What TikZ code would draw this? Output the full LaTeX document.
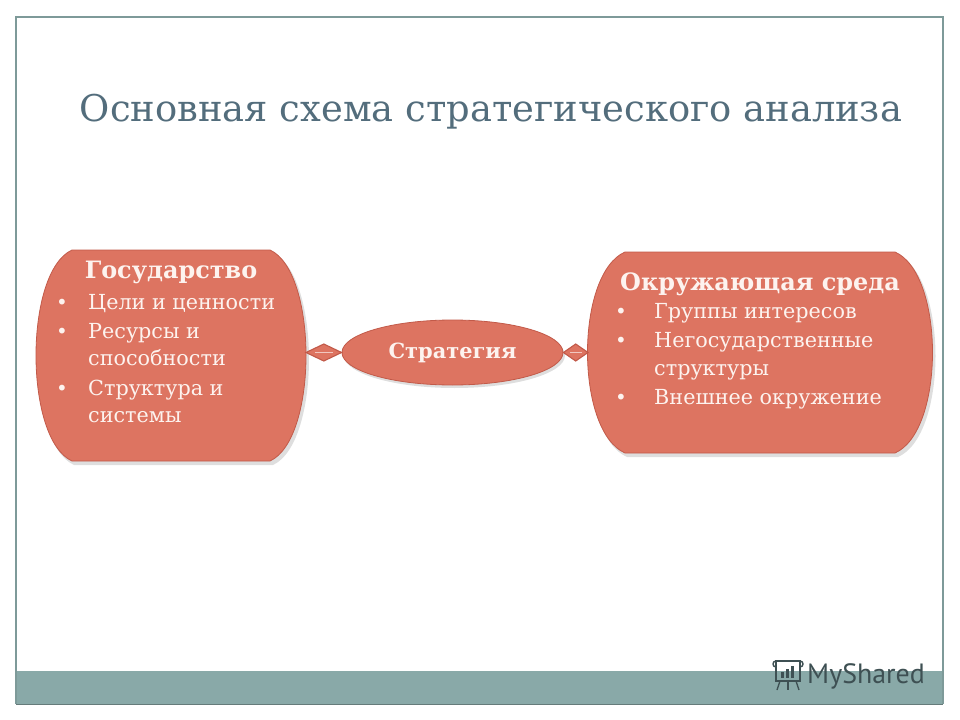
\documentclass[tikz,border=0pt]{standalone}
\usepackage{fontspec}
\setmainfont{DejaVu Serif}
\newfontfamily\logofont{PT Sans}
\usetikzlibrary{arrows.meta,shapes.geometric,calc}
\definecolor{salmon}{HTML}{DD7461}
\definecolor{salmonedge}{HTML}{C25A49}
\definecolor{titleblue}{HTML}{536D7C}
\definecolor{framecol}{HTML}{7E9A99}
\definecolor{barcol}{HTML}{89A9A8}
\definecolor{logocol}{HTML}{3E5053}
\definecolor{txtwhite}{HTML}{FDF3EF}
\tikzset{
  boxarea/.style={inner sep=0pt, outer sep=0pt},
  blobfill/.style={fill=salmon, draw=salmonedge, line width=0.8bp},
  blobshadow/.style={fill=black, opacity=0.13},
  heading/.style={text=txtwhite, font=\fontsize{24}{26}\selectfont\bfseries, inner sep=0pt},
  item/.style={text=txtwhite, font=\fontsize{20.8}{22}\selectfont, inner sep=0pt, anchor=base west},
  bullet/.style={text=txtwhite, font=\fontsize{20}{22}\selectfont, inner sep=0pt, anchor=base},
  linkshape/.style={fill=salmon, draw=salmonedge, line width=1.1bp, line join=miter},
  linkstripe/.style={draw=salmon!40!white, line width=1.2bp}
}
% blob(left flat, right flat, top, bottom, bulge control d)
\newcommand{\blobpath}[5]{(#1,#3) -- (#2,#3) .. controls (#2+#5,#3+22) and (#2+#5,#4-22) .. (#2,#4) -- (#1,#4) .. controls (#1-#5,#4-22) and (#1-#5,#3+22) .. (#1,#3) -- cycle}
\newcommand{\diamondlink}[2]{%
  \draw[linkshape] (#1) -- ($(#1)!0.5!(#2)+(0,-8.5)$) -- (#2) -- ($(#1)!0.5!(#2)+(0,8.5)$) -- cycle;
  \draw[linkstripe] ($(#1)!0.25!(#2)$) -- ($(#1)!0.75!(#2)$);}
\begin{document}
\begin{tikzpicture}[x=1bp,y=-1bp]
\useasboundingbox (0,0) rectangle (960,720);
\fill[white] (0,0) rectangle (960,720);
% frame and bottom bar
\fill[barcol] (16,671) rectangle (943,704);
\draw[framecol, line width=1.2bp] (16,704) -- (16,17) -- (943,17) -- (943,704);
\draw[framecol!80!black, line width=0.6bp] (16,704) -- (943,704);
% title
\node[text=titleblue, font=\fontsize{37}{40}\selectfont, anchor=base, inner sep=0pt] (title) at (491,122) {Основная схема стратегического анализа};
% left blob
\fill[blobshadow] \blobpath{74}{273}{253}{465}{48};
\filldraw[blobfill] \blobpath{72}{270}{250}{461}{48};
\node[boxarea, minimum width=270bp, minimum height=211bp] (gos) at (171,355.5) {};
% right blob
\fill[blobshadow] \blobpath{627}{898}{255}{457}{50};
\filldraw[blobfill] \blobpath{625}{895}{252}{453}{50};
\node[boxarea, minimum width=345bp, minimum height=201bp] (env) at (760.5,352.5) {};
% ellipse
\fill[blobshadow] (454.5,355.5) ellipse [x radius=110.5, y radius=32.5];
\node[ellipse, fill=salmon, draw=salmonedge, line width=0.8bp, minimum width=221bp, minimum height=65bp, inner sep=0pt,
  text=txtwhite, font=\fontsize{21}{23}\selectfont\bfseries] (strat) at (452.5,352.5) {Стратегия};
% left texts
\node[heading, anchor=base] (gosh) at (171,278) {Государство};
\node[bullet] (gb1) at (62,309) {•};
\node[item] (gi1) at (88,309) {Цели и ценности};
\node[bullet] (gb2) at (62,338) {•};
\node[item] (gi2) at (88,338) {Ресурсы и};
\node[item] (gi2b) at (88,365) {способности};
\node[bullet] (gb3) at (62,395) {•};
\node[item] (gi3) at (88,395) {Структура и};
\node[item] (gi3b) at (88,422) {системы};
% right texts
\node[heading, anchor=base] (envh) at (760,290) {Окружающая среда};
\node[bullet] (eb1) at (621,318) {•};
\node[item] (ei1) at (654,318) {Группы интересов};
\node[bullet] (eb2) at (621,347) {•};
\node[item] (ei2) at (654,347) {Негосударственные};
\node[item] (ei2b) at (654,375) {структуры};
\node[bullet] (eb3) at (621,404) {•};
\node[item] (ei3) at (654,404) {Внешнее окружение};
% connectors
\diamondlink{gos.east |- strat.west}{strat.west}
\diamondlink{strat.east}{env.west}
% logo
\node[text=logocol, font=\logofont\fontsize{28}{30}\selectfont, anchor=base west, inner sep=0pt] (logo) at (807,683) {MyShared};
\begin{scope}[draw=logocol, line width=1.4bp]
\draw (776,661) rectangle (800,681);
\draw (776,661) .. controls (772,661) and (772,667) .. (776,667);
\draw (800,661) .. controls (804,661) and (804,667) .. (800,667);
\fill[logocol] (781,672) rectangle (784,678);
\fill[logocol] (786,669) rectangle (789,678);
\fill[logocol] (791,666) rectangle (794,678);
\draw (780,681) -- (777,690);
\draw (788,681) -- (788,690);
\draw (796,681) -- (799,690);
\end{scope}
\end{tikzpicture}
\end{document}
